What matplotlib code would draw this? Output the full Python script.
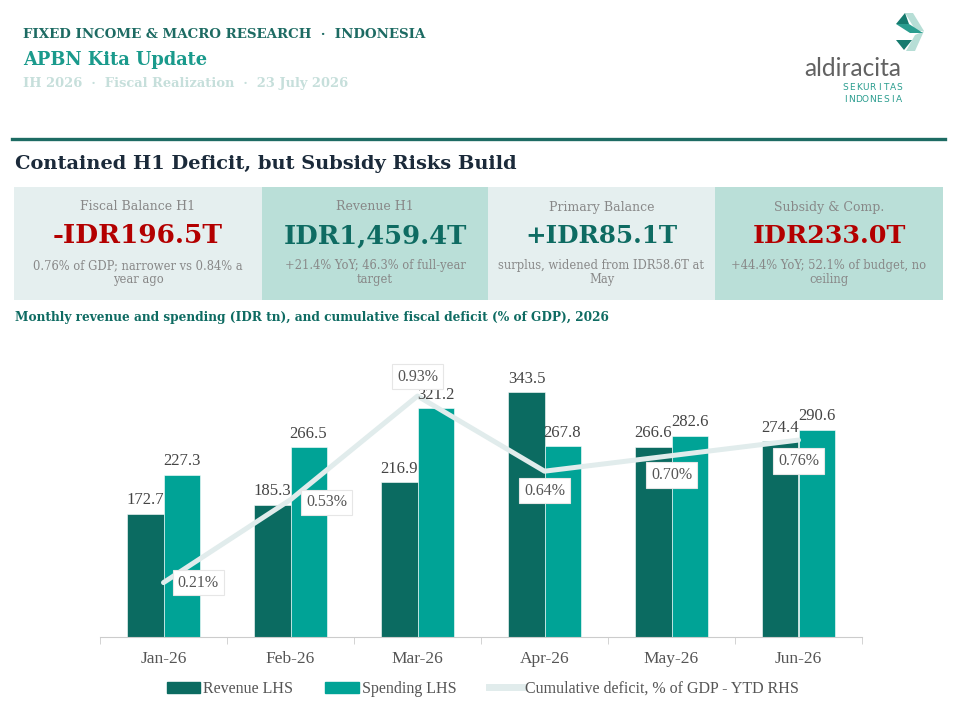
import matplotlib.pyplot as plt
from matplotlib.patches import Rectangle, Polygon, Patch
from matplotlib.lines import Line2D
import numpy as np

# ---- data ----
months = ['Jan-26', 'Feb-26', 'Mar-26', 'Apr-26', 'May-26', 'Jun-26']
revenue = [172.7, 185.3, 216.9, 343.5, 266.6, 274.4]
spending = [227.3, 266.5, 321.2, 267.8, 282.6, 290.6]
deficit = [0.21, 0.53, 0.93, 0.64, 0.70, 0.76]

kpi_labels = ['Fiscal Balance H1', 'Revenue H1', 'Primary Balance', 'Subsidy & Comp.']
kpi_values = ['-IDR196.5T', 'IDR1,459.4T', '+IDR85.1T', 'IDR233.0T']
kpi_notes = [['0.76% of GDP; narrower vs 0.84% a', 'year ago'],
             ['+21.4% YoY; 46.3% of full-year', 'target'],
             ['surplus, widened from IDR58.6T at', 'May'],
             ['+44.4% YoY; 52.1% of budget, no', 'ceiling']]

# ---- colours ----
DARK = '#0b6b61'
TEAL = '#00a396'
LINE = '#e1ecec'
RED = '#b30000'
GREY = '#888888'
TXT = '#555555'

W, H = 959, 718
fig = plt.figure(figsize=(W / 100, H / 100), dpi=100)
fig.patch.set_facecolor('white')
plt.rcParams['font.family'] = ['DejaVu Serif']


def fx(x):
    return x / W


def fy(y):
    return 1 - y / H


renderer = fig.canvas.get_renderer()


def fit(t, width):
    # scale the font so the text spans the width measured on the reference
    w = t.get_window_extent(renderer).width
    t.set_fontsize(t.get_fontsize() * width / w)
    return t


# ---- header ----
fit(fig.text(fx(23), fy(35), 'FIXED INCOME & MACRO RESEARCH  ·  INDONESIA', fontsize=11,
             weight='bold', color='#1d6b63', va='center'), 402)
fit(fig.text(fx(23), fy(60), 'APBN Kita Update', fontsize=15, weight='bold',
             color='#1a9a8c', va='center'), 184)
fit(fig.text(fx(23), fy(84), 'IH 2026  ·  Fiscal Realization  ·  23 July 2026', fontsize=10,
             weight='bold', color='#c6dfdb', va='center'), 325)

# logo
logo = [([(905, 13), (913, 13), (924, 31), (916, 31)], '#b7ded6'),
        ([(924, 31), (915, 51), (906, 51), (915, 35)], '#b7ded6'),
        ([(896, 24), (909, 24), (923, 33), (910, 33)], '#2a9d8f'),
        ([(905, 13), (896, 24), (909, 24)], '#157a6e'),
        ([(896, 40), (912, 40), (904, 50)], '#157a6e')]
for pts, c in logo:
    fig.add_artist(Polygon([(fx(a), fy(b)) for a, b in pts], closed=True,
                           transform=fig.transFigure, color=c, lw=0))
fit(fig.text(fx(804), fy(68), 'aldiracita', fontsize=18, family='Lato', weight='normal',
             color='#626262', va='center'), 97)
for row, word in zip([88, 100], ['SEKURITAS', 'INDONESIA']):
    for i, ch in enumerate(word):
        fig.text(fx(845 + i * 6.8), fy(row), ch, fontsize=6.5, family='DejaVu Sans',
                 color='#2a9d8f', ha='center', va='center')

# rule + title
fig.add_artist(Line2D([fx(12), fx(945)], [fy(139), fy(139)], color='#1d6b63', lw=2.4,
                      transform=fig.transFigure))
fit(fig.text(fx(15), fy(164), 'Contained H1 Deficit, but Subsidy Risks Build', fontsize=16,
             weight='bold', color='#1b2a3a', va='center'), 503)

# ---- KPI cards ----
edges = [14, 262, 488, 715, 943]
fills = ['#e5efef', '#badfd8', '#e5efef', '#badfd8']
vcols = [RED, '#0e6b62', '#0e6b62', RED]
vwidths = [170, 183, 152, 153]
for i in range(4):
    x0, x1 = edges[i], edges[i + 1]
    fig.add_artist(Rectangle((fx(x0), fy(300)), fx(x1) - fx(x0), (300 - 187) / H,
                             transform=fig.transFigure, color=fills[i], lw=0))
    cx = fx((x0 + x1) / 2)
    fig.text(cx, fy(207), kpi_labels[i], fontsize=9, color=GREY, ha='center', va='center')
    fit(fig.text(cx, fy(236), kpi_values[i], fontsize=20, color=vcols[i], ha='center',
                 va='center', weight='semibold'), vwidths[i])
    for j, line in enumerate(kpi_notes[i]):
        fig.text(cx, fy(266 + 14 * j), line, fontsize=8.3, color=GREY, ha='center',
                 va='center')

fit(fig.text(fx(15), fy(317), 'Monthly revenue and spending (IDR tn), and cumulative fiscal '
             'deficit (% of GDP), 2026', fontsize=10, weight='bold', color='#0e6b62',
             va='center'), 598)

# ---- chart ----
ax = fig.add_axes([fx(100), fy(637), fx(862) - fx(100), (637 - 352) / H])
x = np.arange(len(months))
bw = 0.284
ax.bar(x - bw / 2, revenue, bw, color=DARK, edgecolor='white', linewidth=0.4)
ax.bar(x + bw / 2, spending, bw, color=TEAL, edgecolor='white', linewidth=0.4)
ax.set_xlim(-0.5, len(months) - 0.5)
ax.set_ylim(0, 400)
for s in ['top', 'left', 'right']:
    ax.spines[s].set_visible(False)
ax.spines['bottom'].set_color('#cccccc')
ax.set_yticks([])
ax.set_xticks(x)
ax.set_xticklabels(months, family='Liberation Serif', fontsize=12.5, color=TXT)
ax.set_xticks(np.arange(-0.5, len(months)), minor=True)
ax.tick_params(axis='x', which='major', length=0, pad=10)
ax.tick_params(axis='x', which='minor', length=5, color='#cccccc')

ax2 = ax.twinx()
ax2.set_ylim(0, 1.1)
for s in ax2.spines.values():
    s.set_visible(False)
ax2.set_yticks([])
ax2.plot(x, deficit, color=LINE, lw=3.6, solid_capstyle='round', solid_joinstyle='round')

for xi, v in zip(x - bw / 2, revenue):
    ax2.annotate(f'{v:.1f}', (xi, v), xycoords=ax.transData, xytext=(0, 4),
                 textcoords='offset points', ha='center', va='bottom', fontsize=12,
                 family='Liberation Serif', color='#444444')
for xi, v in zip(x + bw / 2, spending):
    ax2.annotate(f'{v:.1f}', (xi, v), xycoords=ax.transData, xytext=(0, 4),
                 textcoords='offset points', ha='center', va='bottom', fontsize=12,
                 family='Liberation Serif', color='#444444')

offsets = [(25, 0), (26, -2), (0, 14), (0, -14), (0, -14), (0, -15)]
for xi, v, off in zip(x, deficit, offsets):
    ax2.annotate(f'{v:.2f}%', (xi, v), xytext=off, textcoords='offset points',
                 ha='center', va='center', fontsize=11.5, family='Liberation Serif',
                 color=TXT, bbox=dict(boxstyle='square,pad=0.3', fc='white',
                                      ec='#e6e6e6', lw=0.8))

handles = [Patch(color=DARK), Patch(color=TEAL), Line2D([], [], color=LINE, lw=5)]
fig.legend(handles, ['Revenue LHS', 'Spending LHS', 'Cumulative deficit, % of GDP - YTD RHS'],
           loc='center', bbox_to_anchor=(fx(483), fy(689)), ncol=3, frameon=False,
           prop={'family': 'Liberation Serif', 'size': 11.5}, labelcolor=TXT,
           handlelength=2.1, handleheight=0.75, handletextpad=0.2, columnspacing=2.0)

fig.savefig('out.png', dpi=100)
